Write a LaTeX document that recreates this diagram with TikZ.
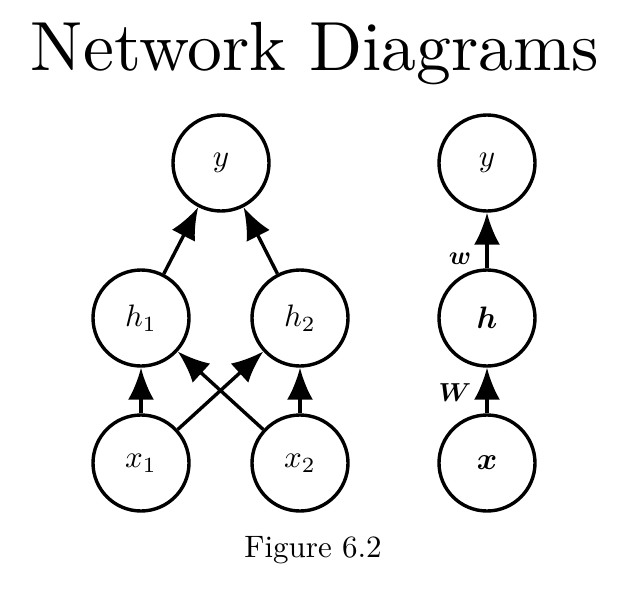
\documentclass[tikz,border=0pt]{standalone}
\usepackage{amsmath,bm,graphicx}
\usetikzlibrary{arrows.meta,positioning}
\newcommand{\nlbl}[1]{\scalebox{1.55}{$#1$}}
\tikzset{
  unit/.style={circle, draw, line width=1.7pt, minimum size=48pt, inner sep=0pt},
  conn/.style={-{Latex[length=16pt,width=13pt]}, line width=1.7pt},
  wlbl/.style={left, inner sep=7pt},
}

\begin{document}
\begin{tikzpicture}[x=0.5pt, y=-0.5pt]
  \useasboundingbox (0,0) rectangle (621,590);
  % --- title
  \node[scale=3.48, anchor=base] (title) at (315,70) {Network Diagrams};
  % --- left network
  \node[unit] (y)  at (221,163) {\nlbl{y}};
  \node[unit] (h1) at (141,318) {\nlbl{h_1}};
  \node[unit] (h2) at (300,318) {\nlbl{h_2}};
  \node[unit] (x1) at (141,463) {\nlbl{x_1}};
  \node[unit] (x2) at (300,463) {\nlbl{x_2}};
  \draw[conn] (h1) -- (y);
  \draw[conn] (h2) -- (y);
  \draw[conn] (x1) -- (h1);
  \draw[conn] (x2) -- (h2);
  \draw[conn] (x1) -- (h2);
  \draw[conn] (x2) -- (h1);
  % --- right network
  \node[unit] (yv) at (487,163) {\nlbl{y}};
  \node[unit] (hv) at (487,318) {\nlbl{\bm{h}}};
  \node[unit] (xv) at (487,463) {\nlbl{\bm{x}}};
  \draw[conn] (hv) -- node[wlbl, pos=0.17] {\scalebox{1.3}{$\bm{w}$}} (yv);
  \draw[conn] (xv) -- node[wlbl, pos=0.45] {\scalebox{1.3}{$\bm{W}$}} (hv);
  % --- caption
  \node[scale=1.55, anchor=base] (cap) at (313,557) {Figure 6.2};
\end{tikzpicture}
\end{document}
